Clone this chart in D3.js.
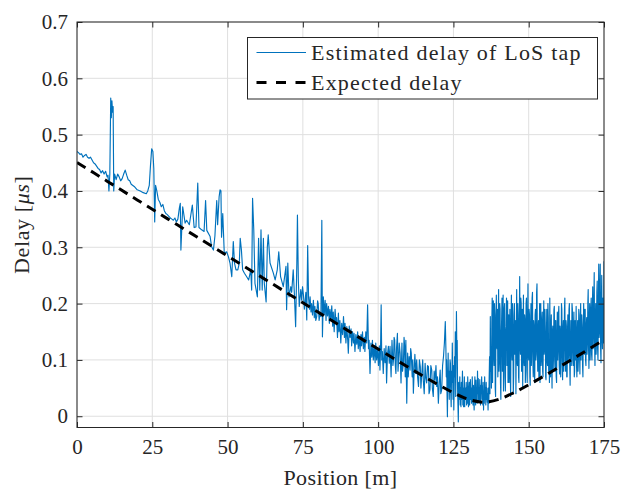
<!DOCTYPE html>
<html>
<head>
<meta charset="utf-8">
<script src="https://cdn.jsdelivr.net/npm/d3@7"></script>
<style>
  body { margin: 0; background: #fff; }
  svg { display: block; }
  text { font-family: "Liberation Serif", "Times New Roman", serif; fill: #262626; }
</style>
</head>
<body>
<svg id="chart" width="621" height="492"></svg>
<script>
// estimated LoS delay, [position m, delay us]
const estimatedPairs = [
  [0,0.47],[0.5,0.468],[1,0.465],[1.5,0.466],[2,0.46],[2.5,0.463],[3,0.465],[3.5,0.46],[4,0.458],[4.5,0.46],
  [5,0.455],[5.5,0.45],[6,0.448],[6.5,0.444],[7,0.44],[7.5,0.438],[8,0.432],[8.5,0.436],[9,0.43],[9.5,0.435],
  [10,0.425],[10.3,0.428],[10.6,0.40],[10.9,0.43],[11.2,0.565],[11.4,0.53],[11.6,0.56],[11.8,0.54],[12.0,0.55],[12.2,0.40],
  [12.5,0.43],[13,0.42],[13.5,0.43],[14,0.425],[14.5,0.418],[15,0.422],[15.5,0.43],[16,0.437],[16.5,0.428],[17,0.42],
  [17.5,0.418],[18,0.412],[19,0.408],[20,0.402],[21,0.4],[22,0.397],[23,0.395],[23.5,0.4],[24,0.41],[24.4,0.445],
  [24.8,0.475],[25.2,0.47],[25.5,0.44],[25.8,0.345],[26.1,0.41],[26.5,0.4],[27,0.385],[27.5,0.38],[28,0.372],[28.5,0.376],
  [29,0.365],[29.5,0.36],[30,0.358],[30.5,0.355],[31,0.352],[31.5,0.35],[32,0.348],[32.5,0.352],[33,0.345],[33.5,0.35],
  [34,0.37],[34.3,0.378],[34.5,0.295],[35.1,0.372],[35.9,0.343],[36.4,0.348],[37.3,0.34],[38.3,0.375],[38.9,0.335],[39.5,0.336],
  [40.1,0.414],[40.5,0.335],[41.4,0.331],[42.2,0.328],[42.7,0.383],[43.1,0.33],[44.2,0.319],[44.7,0.301],[45.3,0.295],[45.8,0.32],
  [46.4,0.383],[46.7,0.34],[47.2,0.39],[47.5,0.402],[47.8,0.40],[48.0,0.318],[48.4,0.36],[48.9,0.29],[49.7,0.292],[50.3,0.283],
  [50.8,0.272],[51.4,0.248],[51.9,0.31],[52.3,0.272],[52.8,0.26],[53.4,0.26],[53.9,0.272],[54.2,0.316],[54.6,0.295],[55.0,0.26],
  [55.6,0.254],[56.3,0.248],[57.0,0.242],[57.7,0.26],[58.0,0.224],[58.3,0.387],[58.7,0.331],[59.1,0.236],[59.5,0.224],[59.9,0.212],
  [60.3,0.316],[60.7,0.224],[61.1,0.331],[61.5,0.224],[61.9,0.316],[62.2,0.236],[62.8,0.203],[63.2,0.30],[63.5,0.322],[64.1,0.272],
  [65.2,0.254],[65.8,0.242],[66.5,0.26],[67.0,0.292],[67.6,0.248],[68.5,0.23],[69.1,0.254],[69.4,0.266],[69.6,0.189],[70.0,0.272],
  [70.4,0.212],[71.0,0.23],[71.3,0.22],[71.8,0.26],[72.2,0.215],[72.6,0.159],[73.0,0.272],[73.2,0.357],[73.5,0.242],[73.8,0.195],
  [74.3,0.225],[74.6,0.206],[74.9,0.23],[75.2,0.215],[75.5,0.19],[75.7,0.201],[76.0,0.22],[76.3,0.171],[76.6,0.303],[76.9,0.21],
  [77.2,0.19],[77.4,0.212],[77.7,0.185],[77.9,0.20],[78.2,0.18],[78.5,0.206],[78.8,0.175],[79.0,0.195],[79.3,0.17],[79.6,0.177],
  [79.9,0.205],[80.1,0.20],[80.4,0.17],[80.7,0.183],[81.0,0.177],[81.3,0.348],[81.5,0.141],[81.8,0.212],[82.1,0.18],[82.4,0.206],
  [82.7,0.17],[82.9,0.2],[83.2,0.178],[83.5,0.195],[83.8,0.165],[84.0,0.19],[84.3,0.17],[84.6,0.196],[84.9,0.16],[85.1,0.185],
  [85.4,0.15],[85.7,0.19],[86.0,0.165],[86.2,0.175],[86.5,0.14],[86.8,0.183],[87.0,0.15],[87.3,0.17],[87.6,0.13],[87.9,0.165],
  [88.2,0.145],[88.5,0.177],[88.8,0.14],[89.0,0.165],[89.3,0.13],[89.6,0.159],[89.9,0.135],[90.1,0.112],[90.4,0.16],[90.7,0.14],
  [91.0,0.155],[91.2,0.125],[91.5,0.15],[91.8,0.13],[92.0,0.147],[92.3,0.115],[92.6,0.145],[92.9,0.128],[93.2,0.15],[93.4,0.12],
  [93.7,0.14],[94.0,0.115],[94.3,0.145],[94.5,0.125],[94.8,0.15],[95.1,0.12],[95.4,0.14],[95.6,0.115],[95.9,0.15],[96.2,0.13],
  [96.5,0.198],[96.8,0.12],[97.0,0.135],[97.3,0.076],[97.6,0.13],[97.9,0.105],[98.1,0.135],[98.4,0.1],[98.7,0.125],[99.0,0.095],
  [99.2,0.13],[99.5,0.1],[99.8,0.12],[100.1,0.09],[100.4,0.125],[100.6,0.082],[100.8,0.12],[101.0,0.198],[101.2,0.1],[101.4,0.115],
  [101.7,0.076],[102.0,0.12],[102.3,0.095],[102.6,0.125],[102.8,0.059],[103.1,0.11],[103.4,0.124],[103.7,0.094],[103.95,0.124],[104.3,0.07],
  [104.6,0.135],[104.9,0.09],[105.1,0.10],[105.3,0.14],[105.5,0.135],[105.7,0.09],[105.9,0.076],[106.1,0.12],[106.4,0.147],[106.6,0.08],
  [106.8,0.10],[107.0,0.13],[107.3,0.112],[107.6,0.059],[107.9,0.13],[108.1,0.08],[108.4,0.095],[108.6,0.14],[108.8,0.124],[109.0,0.07],
  [109.2,0.135],[109.5,0.023],[109.8,0.112],[110.0,0.07],[110.3,0.106],[110.6,0.082],[110.8,0.12],[111.0,0.112],[111.3,0.07],[111.5,0.1],
  [111.7,0.041],[112.0,0.088],[112.2,0.11],[112.5,0.076],[112.8,0.10],[113.1,0.07],[113.4,0.053],[113.7,0.1],[114.0,0.088],[114.2,0.05],
  [114.5,0.076],[114.8,0.1],[115.0,0.064],[115.3,0.04],[115.6,0.094],[115.8,0.07],[116.1,0.059],[116.4,0.09],[116.7,0.088],[116.9,0.04],
  [117.2,0.047],[117.5,0.09],[117.8,0.082],[118.0,0.05],[118.3,0.035],[118.6,0.08],[118.9,0.064],[119.2,0.09],[119.45,0.053],[119.7,0.07],
  [120.0,0.023],[120.3,0.06],[120.6,0.082],[120.8,0.04],[121.1,0.047],[121.4,0.09],[121.7,0.106],[122.0,0.13],[122.3,0.168]
];

// dense noisy stretch, sampled every 0.125 m from 122.5 m on
const denseStart = 122.5;
const denseStep = 0.125;
const denseDelay = [
  // 122.5 .. 137.625 m, near the minimum
  0.12,0.07,0.1,0.04,-0.001,0.06,0.112,0.05, 0.08,0.03,0.064,0.1,0.094,0.04,0.017,0.08,
  0.06,0.13,0.07,0.03,0.09,0.011,0.05,0.106, 0.07,0.15,0.035,0.09,0.186,0.12,0.135,0.05,
  0.02,-0.01,0.06,0.03,0.041,0.07,0.02,0.05, 0.017,0.06,0.03,0.047,0.08,0.02,0.05,0.017,
  0.04,0.07,0.017,0.05,0.03,0.041,0.06,0.02, 0.05,0.023,0.07,0.03,0.017,0.045,0.06,0.02,
  0.041,0.065,0.03,0.05,0.023,0.04,0.07,0.035, 0.02,0.055,0.035,0.011,0.045,0.07,0.041,0.02,
  0.064,0.03,0.05,0.023,0.08,0.04,0.067,0.025, 0.05,0.029,0.065,0.035,0.02,0.055,0.04,0.07,
  0.03,0.053,0.02,0.06,0.011,0.045,0.023,0.07, 0.03,0.05,0.02,0.06,0.03,0.05,0.025,0.04,
  0.011,0.05,0.023,0.07,0.106,0.04,0.177,0.08, 0.12,0.05,
  // 137.75 .. 175 m, after the jump
  0.165,0.21,0.06,0.15,0.205,0.11,0.09,0.2,0.18,0.05,0.035,0.17,0.215,0.13,0.12,0.19,
  0.07,0.16,0.225,0.08,0.1,0.2,0.19,0.06,0.03,0.14,0.17,0.21,0.08,0.12,0.215,0.045,
  0.11,0.19,0.2,0.07,0.045,0.15,0.16,0.21,0.09,0.14,0.205,0.06,0.13,0.18,0.06,0.1,
  0.19,0.08,0.035,0.16,0.215,0.12,0.1,0.2,0.15,0.04,0.07,0.18,0.2,0.11,0.12,0.17,
  0.04,0.14,0.225,0.1,0.09,0.2,0.18,0.07,0.06,0.16,0.248,0.13,0.11,0.21,0.2,0.08,
  0.13,0.19,0.05,0.15,0.215,0.1,0.09,0.18,0.17,0.06,0.08,0.2,0.21,0.12,0.06,0.16,
  0.235,0.11,0.1,0.19,0.18,0.07,0.055,0.16,0.2,0.09,0.12,0.21,0.22,0.1,0.07,0.17,
  0.16,0.08,0.06,0.18,0.19,0.1,0.11,0.22,0.235,0.12,0.08,0.15,0.17,0.07,0.13,0.2,
  0.06,0.15,0.2,0.09,0.1,0.17,0.185,0.08,0.07,0.16,0.205,0.11,0.12,0.19,0.16,0.07,
  0.065,0.14,0.19,0.1,0.09,0.2,0.175,0.08,0.13,0.06,0.21,0.12,0.07,0.16,0.18,0.09,
  0.05,0.15,0.16,0.08,0.11,0.19,0.195,0.1,0.08,0.17,0.17,0.07,0.06,0.14,0.185,0.1,
  0.12,0.18,0.195,0.09,0.075,0.16,0.15,0.07,0.1,0.2,0.19,0.11,0.065,0.15,0.17,0.08,
  0.13,0.19,0.21,0.1,0.08,0.17,0.16,0.07,0.07,0.15,0.18,0.1,0.11,0.19,0.2,0.09,
  0.055,0.13,0.17,0.09,0.12,0.2,0.19,0.1,0.09,0.16,0.185,0.07,0.08,0.17,0.16,0.1,
  0.195,0.09,0.07,0.15,0.17,0.08,0.1,0.19,0.18,0.11,0.075,0.16,0.2,0.1,0.12,0.18,
  0.16,0.09,0.07,0.15,0.2,0.12,0.11,0.19,0.19,0.1,0.09,0.16,0.175,0.11,0.13,0.2,
  0.225,0.12,0.085,0.17,0.2,0.1,0.12,0.19,0.21,0.11,0.1,0.18,0.23,0.12,0.14,0.2,
  0.255,0.13,0.09,0.17,0.2,0.11,0.13,0.22,0.24,0.12,0.1,0.19,0.27,0.14,0.15,0.23,
  0.27,0.12,0.095,0.2,0.25,0.14,0.12,0.21,0.2,0.13,0.275
];

// expected delay of the LoS path
const expectedPos = [0,10,20,30,40,50,60,70,80,90,100,110,120,125,130,135,140,145,150,160,170,175];
const expectedDelay = [0.4507,0.4174,0.3841,0.3509,0.3177,0.2845,0.2513,0.2181,0.1850,0.1520,0.1193,0.0870,0.0559,0.0417,0.0300,0.0250,0.0300,0.0417,0.0559,0.0870,0.1193,0.1357];

const xTicks = [0,25,50,75,100,125,150,175];
const yTicks = [0,0.1,0.2,0.3,0.4,0.5,0.6,0.7];
const legendLabels = ["Estimated delay of LoS tap", "Expected delay"];

const estimated = estimatedPairs.map(d => ({ pos: d[0], delay: d[1] }))
  .concat(denseDelay.map((v, i) => ({ pos: denseStart + i * denseStep, delay: v })));
const expected = expectedPos.map((p, i) => ({ pos: p, delay: expectedDelay[i] }));

const svg = d3.select("#chart");
const plotLeft = 77, plotRight = 604, plotTop = 22, plotBottom = 427.5;
const axisColor = "#262626";

const x = d3.scaleLinear().domain([0, 175]).range([plotLeft, plotRight]);
const y = d3.scaleLinear().domain([-0.02, 0.7]).range([plotBottom, plotTop]);

svg.append("defs").append("clipPath").attr("id", "clip")
  .append("rect").attr("x", plotLeft).attr("y", plotTop)
  .attr("width", plotRight - plotLeft).attr("height", plotBottom - plotTop);

// grid
const grid = svg.append("g");
grid.selectAll(".gx").data(xTicks).enter().append("line")
  .attr("x1", d => x(d)).attr("x2", d => x(d)).attr("y1", plotTop).attr("y2", plotBottom)
  .attr("stroke", "#dfdfdf").attr("stroke-width", 1);
grid.selectAll(".gy").data(yTicks).enter().append("line")
  .attr("x1", plotLeft).attr("x2", plotRight).attr("y1", d => y(d)).attr("y2", d => y(d))
  .attr("stroke", "#dfdfdf").attr("stroke-width", 1);

const line = d3.line().x(d => x(d.pos)).y(d => y(d.delay));
const plot = svg.append("g").attr("clip-path", "url(#clip)");

plot.append("path").datum(estimated)
  .attr("d", line).attr("fill", "none")
  .attr("stroke", "#0072BD").attr("stroke-width", 1.15).attr("stroke-linejoin", "round");

plot.append("path").datum(expected)
  .attr("d", d3.line().x(d => x(d.pos)).y(d => y(d.delay)).curve(d3.curveMonotoneX))
  .attr("fill", "none").attr("stroke", "#000").attr("stroke-width", 3)
  .attr("stroke-dasharray", "10,6.5");

// axes: ticks inside on all four sides
const tickLen = 5.5;
svg.append("g").attr("transform", `translate(0,${plotBottom})`)
  .call(d3.axisBottom(x).tickValues(xTicks).tickSizeInner(-tickLen).tickSizeOuter(0).tickPadding(12))
  .call(g => g.select(".domain").remove());
svg.append("g").attr("transform", `translate(0,${plotTop})`)
  .call(d3.axisTop(x).tickValues(xTicks).tickSizeInner(-tickLen).tickSizeOuter(0).tickFormat(""))
  .call(g => g.select(".domain").remove());
svg.append("g").attr("transform", `translate(${plotLeft},0)`)
  .call(d3.axisLeft(y).tickValues(yTicks).tickSizeInner(-tickLen).tickSizeOuter(0).tickPadding(9)
    .tickFormat(d => d === 0 ? "0" : d3.format(".1f")(d)))
  .call(g => g.select(".domain").remove());
svg.append("g").attr("transform", `translate(${plotRight},0)`)
  .call(d3.axisRight(y).tickValues(yTicks).tickSizeInner(-tickLen).tickSizeOuter(0).tickFormat(""))
  .call(g => g.select(".domain").remove());

svg.selectAll(".tick line").attr("stroke", axisColor);
svg.selectAll(".tick text").attr("font-size", 21).attr("fill", axisColor)
  .style("font-family", "'Liberation Serif', serif");

svg.append("rect").attr("x", plotLeft).attr("y", plotTop)
  .attr("width", plotRight - plotLeft).attr("height", plotBottom - plotTop)
  .attr("fill", "none").attr("stroke", axisColor).attr("stroke-width", 1);

// axis labels
svg.append("text").attr("x", (plotLeft + plotRight) / 2).attr("y", 485)
  .attr("text-anchor", "middle").attr("font-size", 22).attr("letter-spacing", 0.4).text("Position [m]");

const yl = svg.append("text").attr("transform", `translate(29,${(plotTop + plotBottom) / 2}) rotate(-90)`)
  .attr("text-anchor", "middle").attr("font-size", 22).attr("letter-spacing", 0.6);
yl.append("tspan").text("Delay [");
yl.append("tspan").attr("font-style", "italic").text("μs");
yl.append("tspan").text("]");

// legend
const lg = svg.append("g");
lg.append("rect").attr("x", 247.5).attr("y", 37.5).attr("width", 350).attr("height", 61.5)
  .attr("fill", "#fff").attr("stroke", axisColor).attr("stroke-width", 1);
lg.append("line").attr("x1", 256.5).attr("x2", 306).attr("y1", 52.5).attr("y2", 52.5)
  .attr("stroke", "#0072BD").attr("stroke-width", 1.1);
lg.append("line").attr("x1", 256.5).attr("x2", 306).attr("y1", 82.5).attr("y2", 82.5)
  .attr("stroke", "#000").attr("stroke-width", 3).attr("stroke-dasharray", "10,9.5");
lg.selectAll(".lt").data(legendLabels).enter().append("text")
  .attr("x", 311).attr("y", (d, i) => 52.5 + i * 30 + 7)
  .attr("font-size", 22).attr("letter-spacing", 1.2).text(d => d);
</script>
</body>
</html>
